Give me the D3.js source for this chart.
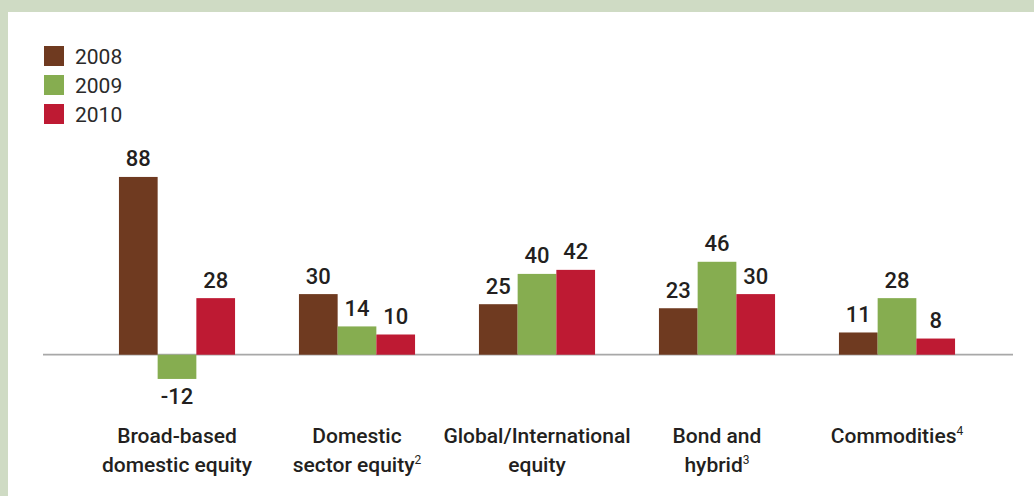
<!DOCTYPE html>
<html>
<head>
<meta charset="utf-8">
<script src="https://cdn.jsdelivr.net/npm/d3@7"></script>
<style>
  html, body { margin: 0; padding: 0; background: #cfdbc4; }
  svg { display: block; }
</style>
</head>
<body>
<svg id="chart" width="1034" height="496"></svg>
<script>
// Net new cash flow by fund type, billions of dollars
const categories = [
  ["Broad-based", "domestic equity"],
  ["Domestic", "sector equity", "2"],
  ["Global/International", "equity"],
  ["Bond and", "hybrid", "3"],
  ["Commodities", null, "4"]
];
const years = ["2008", "2009", "2010"];
const values2008 = [88, 30, 25, 23, 11];
const values2009 = [-12, 14, 40, 46, 28];
const values2010 = [28, 10, 42, 30, 8];
const colors = ["#6f3a20", "#86ad50", "#be1a33"];

const series = [values2008, values2009, values2010];

const svg = d3.select("#chart");

// white panel inside the light green frame
svg.append("rect").attr("x", 8).attr("y", 12).attr("width", 1026).attr("height", 484).attr("fill", "#ffffff");

const x0 = d3.scaleBand().domain(d3.range(categories.length)).range([87, 987]).paddingInner(0.355).paddingOuter(0.1775);
const x1 = d3.scaleBand().domain(years).range([0, x0.bandwidth()]);
const y = d3.scaleLinear().domain([-20, 100]).range([395.1, 152.7]);

const textColor = "#231f20";
const font = "Roboto, 'Noto Sans', sans-serif";

// baseline
svg.append("line")
  .attr("x1", 43).attr("x2", 1013)
  .attr("y1", y(0)).attr("y2", y(0))
  .attr("stroke", "#a8a8a8").attr("stroke-width", 1.8);

const groups = svg.append("g").selectAll("g")
  .data(categories.map((c, i) => i))
  .join("g")
  .attr("transform", i => `translate(${x0(i)},0)`);

years.forEach((yr, s) => {
  groups.append("rect")
    .attr("x", x1(yr))
    .attr("width", x1.bandwidth())
    .attr("y", i => Math.min(y(series[s][i]), y(0)))
    .attr("height", i => Math.abs(y(series[s][i]) - y(0)))
    .attr("fill", colors[s]);

  groups.append("text")
    .attr("x", x1(yr) + x1.bandwidth() / 2)
    .attr("y", i => series[s][i] >= 0 ? y(series[s][i]) - 10.5 : y(series[s][i]) + 25)
    .attr("text-anchor", "middle")
    .attr("font-family", font)
    .attr("font-weight", 500)
    .attr("font-size", 22)
    .attr("fill", textColor)
    .text(i => series[s][i]);
});

// category labels
categories.forEach((c, i) => {
  const cx = x0(i) + x0.bandwidth() / 2;
  const lines = c[1] ? [c[0], c[1]] : [c[0]];
  lines.forEach((ln, k) => {
    const t = svg.append("text")
      .attr("x", cx)
      .attr("y", 443 + k * 28.7)
      .attr("text-anchor", "middle")
      .attr("font-family", font)
      .attr("font-weight", 500)
      .attr("font-size", 21)
      .attr("fill", textColor);
    t.append("tspan").text(ln);
    if (c[2] && k === lines.length - 1) {
      t.append("tspan").attr("font-size", 12).attr("dy", -8).attr("font-weight", 400).text(c[2]);
    }
  });
});

// legend
const legend = svg.append("g").selectAll("g").data(years).join("g")
  .attr("transform", (d, i) => `translate(44,${46 + i * 29})`);
legend.append("rect").attr("width", 20).attr("height", 20).attr("fill", (d, i) => colors[i]);
legend.append("text")
  .attr("x", 31).attr("y", 18.3)
  .attr("font-family", font)
  .attr("font-size", 21)
  .attr("fill", "#2a2a2a")
  .text(d => d);
</script>
</body>
</html>
